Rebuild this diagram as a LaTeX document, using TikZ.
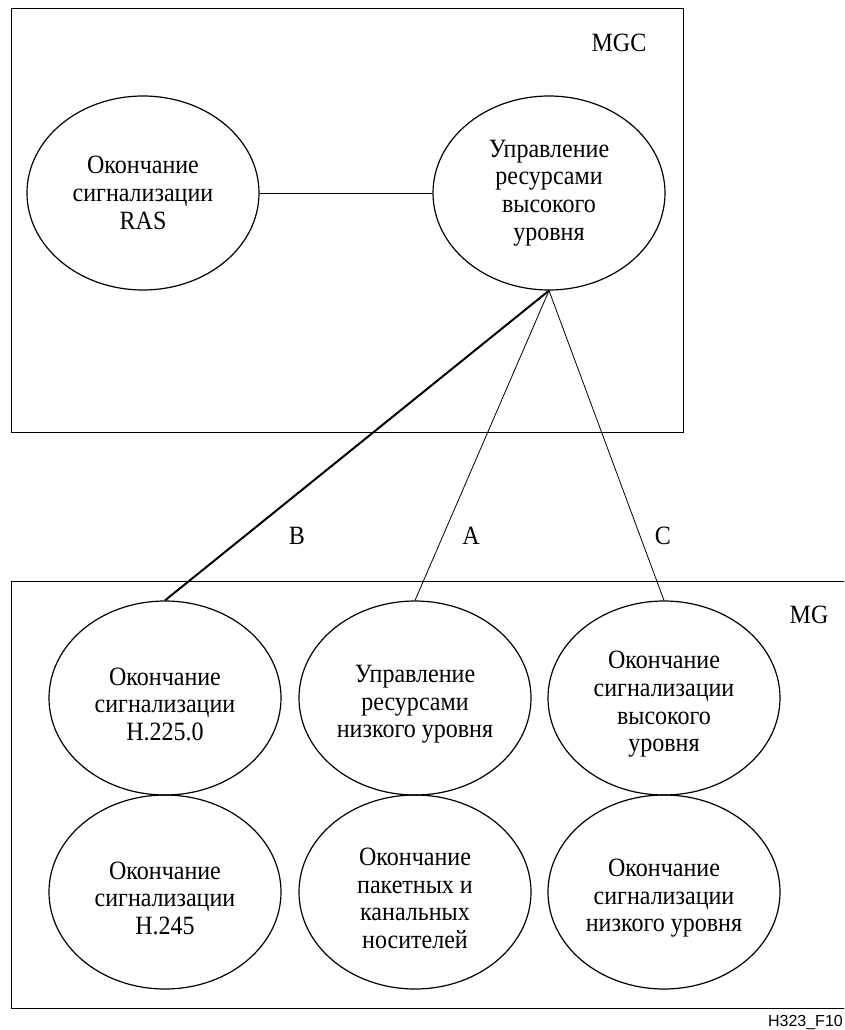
\documentclass[tikz,border=0pt]{standalone}
\usepackage{fontspec}
\setmainfont{Liberation Serif}[FakeStretch=0.91]
\newfontfamily\figsans{Liberation Sans}
\usetikzlibrary{shapes.geometric}
\newcommand\downline{\rule{0pt}{30pt}}
\begin{document}
\begin{tikzpicture}[x=1pt,y=-1pt,
  func/.style={ellipse, draw, line width=1.2pt, minimum width=232pt, minimum height=194pt,
    inner sep=0pt, align=center, font=\fontsize{26.4}{27.7}\selectfont},
  frame/.style={draw, line width=1pt},
  link/.style={line width=0.8pt},
  boldlink/.style={line width=2pt},
  tag/.style={font=\fontsize{26.4}{27.7}\selectfont, inner sep=0pt}]
\clip (0,0) rectangle (844,1030);
\useasboundingbox (0,0) rectangle (844,1030);

% Media gateway controller
\draw[frame] (11,9) rectangle (683,432);
\node[tag] (mgc) at (619,43) {MGC};
\node[func] (ras)  at (143,193) {Окончание\\сигнализации\\RAS};
\node[func] (hres) at (549,193) {Управление\\ресурсами\\высокого\\уровня};
\draw[frame] (ras) -- (hres);

% Media gateway (text sits a little below the ellipse centres)
\draw[frame] (11,581) rectangle (870,1008);
\node[tag] (mg) at (809,615) {MG};
\node[func] (h225)   at (165,698) {\downline Окончание\\сигнализации\\H.225.0};
\node[func] (lres)   at (415,698) {\downline Управление\\ресурсами\\низкого уровня};
\node[func] (hsig)   at (664,698) {\downline Окончание\\сигнализации\\высокого\\уровня};
\node[func] (h245)   at (165,892) {\downline Окончание\\сигнализации\\H.245};
\node[func] (bearer) at (415,892) {\downline Окончание\\пакетных и\\канальных\\носителей};
\node[func] (lsig)   at (664,892) {\downline Окончание\\сигнализации\\низкого уровня};

% Interfaces between controller and gateway
\draw[boldlink] (hres.south) -- (h225.north);
\draw[link] (hres.south) -- (lres.north);
\draw[link] (hres.south) -- (hsig.north);
\node[tag] (lb) at (297,536) {B};
\node[tag] (la) at (471,536) {A};
\node[tag] (lc) at (663,536) {C};

\node[font=\figsans\fontsize{16}{18}\selectfont, anchor=east, inner sep=0pt] (fig) at (843,1022) {H323\_F10};
\end{tikzpicture}
\end{document}
